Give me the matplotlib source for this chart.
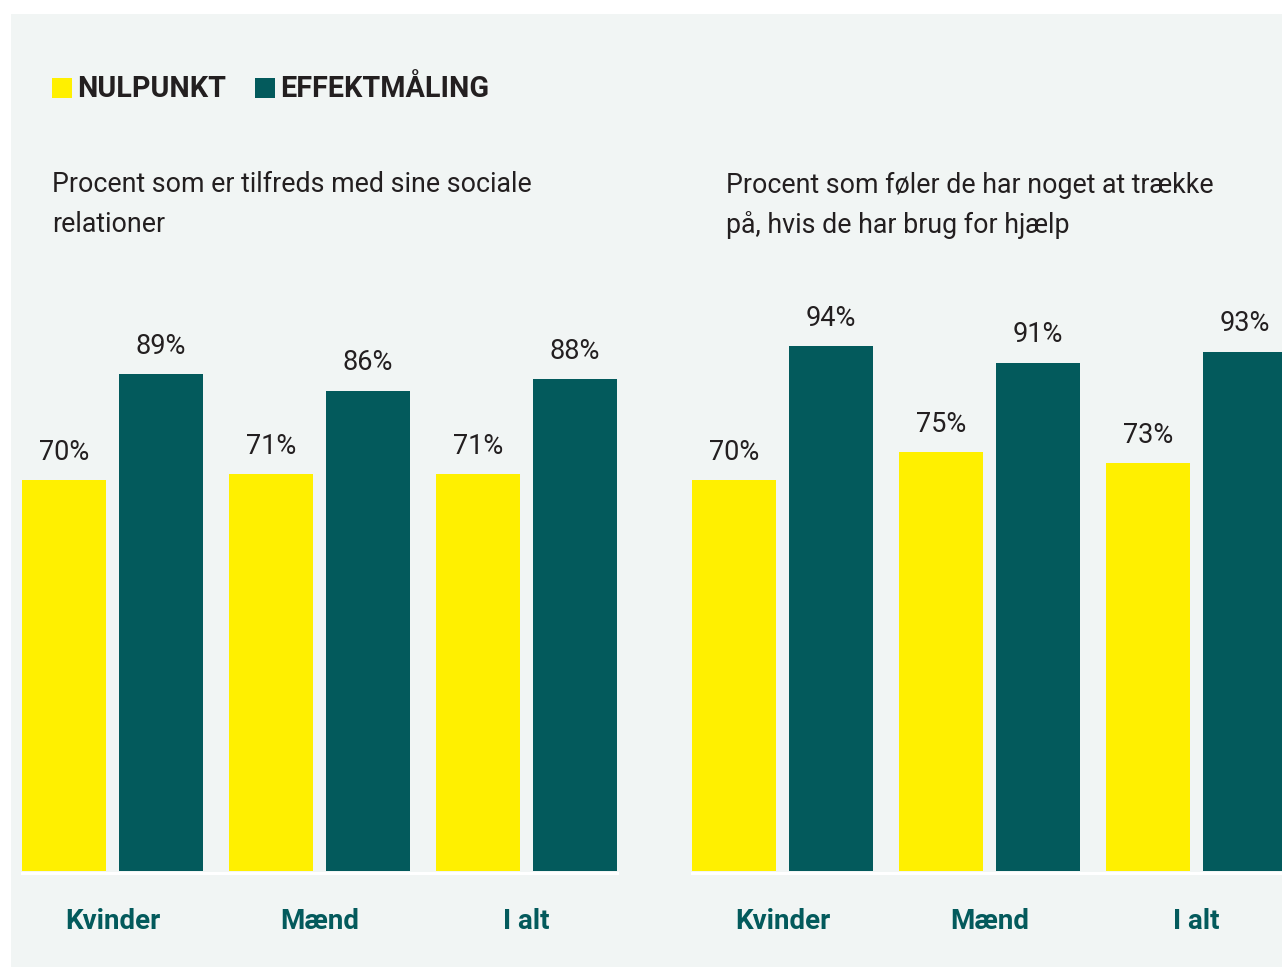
import matplotlib.pyplot as plt
from matplotlib.patches import Rectangle
import numpy as np

# data
groups = ["Kvinder", "Mænd", "I alt"]
titles = [["Procent som er tilfreds med sine sociale", "relationer"],
          ["Procent som føler de har noget at trække", "på, hvis de har brug for hjælp"]]
nulpunkt = [[70, 71, 71], [70, 75, 73]]
effekt = [[89, 86, 88], [94, 91, 93]]
series_names = ["NULPUNKT", "EFFEKTMÅLING"]

YELLOW = "#fff000"
TEAL = "#035a5c"
BG = "#f1f5f4"
TXT = "#231f20"

plt.rcParams['font.family'] = ['Roboto', 'DejaVu Sans']

W, H = 1282, 967
fig = plt.figure(figsize=(W / 100, H / 100), dpi=100)
fig.patch.set_facecolor("white")

def px(x, y):
    # pixel position (from top-left) -> figure fraction
    return x / W, 1 - y / H

# light panel behind everything
fig.patches.append(Rectangle(px(11, 967), 1, (967 - 14) / H, transform=fig.transFigure,
                             facecolor=BG, edgecolor="none", zorder=-5))

# legend
for i, (name, col) in enumerate(zip(series_names, [YELLOW, TEAL])):
    x0 = [52, 255][i]
    fig.patches.append(Rectangle(px(x0, 98), 20 / W, 20 / H, transform=fig.transFigure,
                                 facecolor=col, edgecolor="none", zorder=2))
    fig.text(*px(x0 + 25, 89), name, fontsize=20.7, fontweight="bold", color=TXT,
             va="center", ha="left")

base_y = 871
px_per_pct = 5.586
ax_h = 100 * px_per_pct
pitch = 207
x_lo = -90.5 / pitch
x_hi = 2 + 90.5 / pitch
bw = 84 / pitch
off = 48.5 / pitch

for k, left in enumerate([22, 692]):
    x0, y0 = px(left, base_y)
    ax = fig.add_axes([x0, y0, 595 / W, ax_h / H])
    ax.set_facecolor("none")
    ax.set_xlim(x_lo, x_hi)
    ax.set_ylim(0, 100)
    ax.axis("off")
    x = np.arange(len(groups))
    b1 = ax.bar(x - off, nulpunkt[k], width=bw, color=YELLOW, zorder=2)
    b2 = ax.bar(x + off, effekt[k], width=bw, color=TEAL, zorder=2)
    for bars, vals in [(b1, nulpunkt[k]), (b2, effekt[k])]:
        for b, v in zip(bars, vals):
            ax.annotate(f"{v}%", (b.get_x() + b.get_width() / 2, v),
                        xytext=(0, 20), textcoords="offset points",
                        ha="center", va="center", fontsize=19.5, color=TXT)
    ax.axhline(-0.27, color="white", lw=2.2, clip_on=False, zorder=1)
    for i, g in enumerate(groups):
        ax.annotate(g, (i, 0), xytext=(0, -36.5), textcoords="offset points",
                    ha="center", va="center", fontsize=20, fontweight="bold",
                    color=TEAL, annotation_clip=False)
    tx = [52, 726][k]
    for j, line in enumerate(titles[k]):
        fig.text(*px(tx, 185 + 40 * j), line, fontsize=19.3, color=TXT,
                 va="center", ha="left")

fig.savefig("out.png", dpi=100, facecolor=fig.get_facecolor())
